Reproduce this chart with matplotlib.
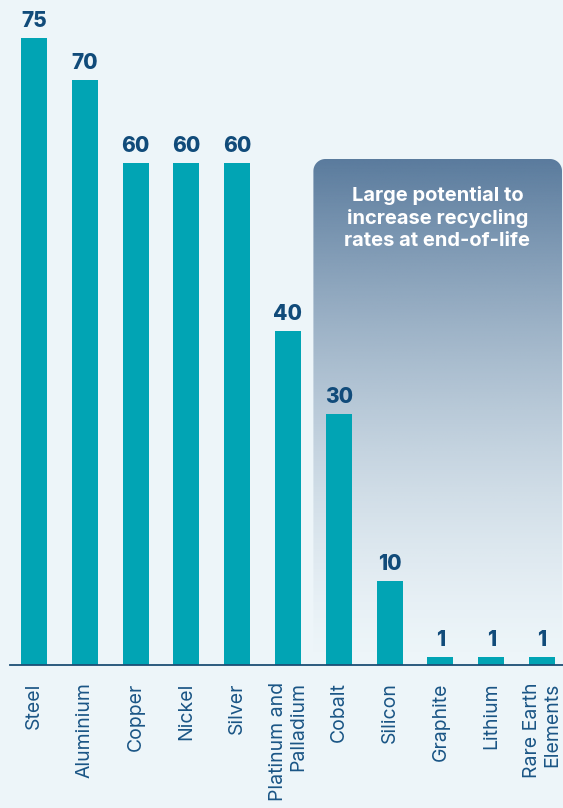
import numpy as np
import matplotlib
matplotlib.use("Agg")
import matplotlib.pyplot as plt
from matplotlib.patches import Polygon
from matplotlib.colors import to_rgb

categories = ["Steel", "Aluminium", "Copper", "Nickel", "Silver", "Platinum and\nPalladium",
              "Cobalt", "Silicon", "Graphite", "Lithium", "Rare Earth\nElements"]
values = [75, 70, 60, 60, 60, 40, 30, 10, 1, 1, 1]
box_text = "Large potential to\nincrease recycling\nrates at end-of-life"

BG = "#EDF5F9"
BAR = "#01A4B4"
DARK = "#114B7A"
TICK = "#1A5585"
BOX_TOP = "#5A7B9D"

W, H = 563, 808
fig = plt.figure(figsize=(W / 100, H / 100), dpi=100, facecolor=BG)
ax = fig.add_axes([10 / W, 143 / H, 553 / W, 665 / H])
ax.set_facecolor(BG)

px_x = 50.8   # pixels per category
px_y = 8.36   # pixels per unit
xlim = ((10 - 34) / px_x, (563 - 34) / px_x)
ylim = (0, 665 / px_y)

# gradient box
x0, x1 = 5.5, (562 - 34) / px_x
y0, y1 = 0, (665 - 159) / px_y
rx, ry = 12 / px_x, 12 / px_y
pts = [(x0, y0), (x1, y0)]
th = np.linspace(0, np.pi / 2, 20)
for t in th:
    pts.append((x1 - rx + rx * np.cos(t), y1 - ry + ry * np.sin(t)))
for t in th:
    pts.append((x0 + rx + rx * np.cos(np.pi / 2 + t), y1 - ry + ry * np.sin(np.pi / 2 + t)))
clip = Polygon(pts, closed=True, transform=ax.transData, facecolor="none", edgecolor="none")
ax.add_patch(clip)
n = 300
tt = np.linspace(0, 1, n)[:, None]
rgba = np.zeros((n, 2, 4))
rgba[..., :3] = to_rgb(BOX_TOP)
rgba[..., 3] = np.repeat((1 - tt) ** 1.5, 2, axis=1)
im = ax.imshow(rgba, extent=[x0, x1, y0, y1], origin="upper", aspect="auto", zorder=1,
               interpolation="bilinear")
im.set_clip_path(clip)

x = np.arange(len(categories))
ax.bar(x, values, width=26 / px_x, color=BAR, zorder=2)
for xi, v in zip(x, values):
    ax.text(xi, v + 11 / px_y, str(v), ha="center", va="baseline", fontsize=15,
            fontweight="heavy", color=DARK, family="Inter", zorder=3)

ax.text((437.5 - 34) / px_x, (665 - 218) / px_y, box_text, ha="center", va="center",
        fontsize=14.5, fontweight="bold", color="white", family="Inter", linespacing=1.28,
        zorder=3)

ax.set_xlim(*xlim)
ax.set_ylim(*ylim)
ax.set_xticks(x)
ax.set_xticklabels(categories, rotation=90, ha="center", va="top", multialignment="right",
                   fontsize=14, color=TICK, family="Inter", linespacing=1.15)
ax.tick_params(axis="x", length=0, pad=12.5)
ax.set_yticks([])
for s in ["top", "left", "right"]:
    ax.spines[s].set_visible(False)
ax.spines["bottom"].set_color("#1C4E75")
ax.spines["bottom"].set_linewidth(1.3)
ax.spines["bottom"].set_zorder(4)

fig.savefig("out.png", dpi=100, facecolor=BG)
